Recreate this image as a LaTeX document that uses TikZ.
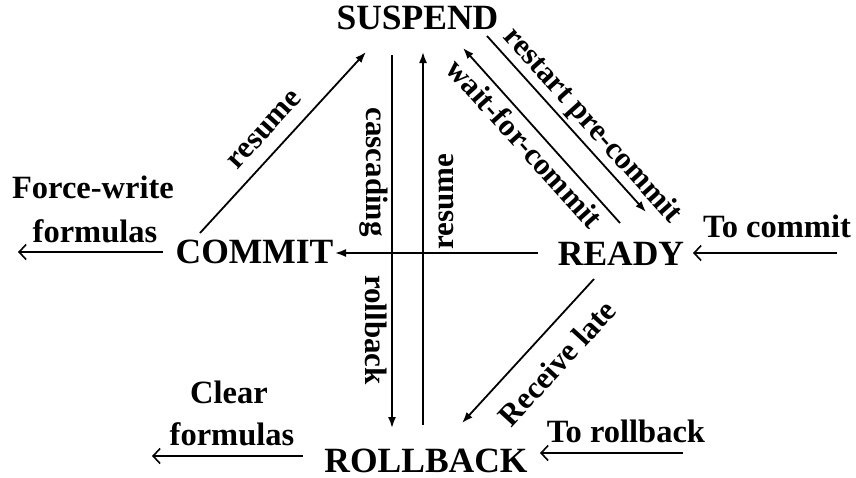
\documentclass[tikz,border=0pt]{standalone}
\usepackage{fontspec}
\setmainfont{Liberation Serif}
\usetikzlibrary{arrows.meta}
\begin{document}
\begin{tikzpicture}[x=1pt,y=-1pt,
  state/.style={font=\fontsize{35.5}{36}\selectfont\bfseries, inner sep=0pt},
  lbl/.style={font=\fontsize{31}{32}\selectfont\bfseries, inner sep=0pt},
  hlbl/.style={font=\fontsize{32.5}{33}\selectfont\bfseries, inner sep=0pt, anchor=base},
  arr/.style={line width=1.8pt, -{Latex[length=11pt,width=8pt]}},
  ext/.style={line width=1.8pt, -{Straight Barb[length=7pt,width=15pt,line width=1.6pt]}}]
\useasboundingbox (0,0) rectangle (856,477);
% states
\node[state] (S) at (417.5,17.5) {SUSPEND};
\node[state] (C) at (254.5,251.5) {COMMIT};
\node[state] (R) at (621,253.5) {READY};
\node[state] (B) at (426,460.5) {ROLLBACK};
% connector end points
\coordinate (cs1) at (200,233);   \coordinate (cs2) at (366,52);
\coordinate (sb1) at (392,55);    \coordinate (sb2) at (392,428);
\coordinate (bs1) at (423,425);   \coordinate (bs2) at (423,52);
\coordinate (rc1) at (538,253);   \coordinate (rc2) at (335,253);
\coordinate (rs1) at (620,223);   \coordinate (rs2) at (463,48);
\coordinate (sr1) at (487,36);    \coordinate (sr2) at (646,212);
\coordinate (rb1) at (594,279);   \coordinate (rb2) at (462,423);
\coordinate (cx1) at (163,252);   \coordinate (cx2) at (18,252);
\coordinate (rx1) at (837,253);   \coordinate (rx2) at (693,253);
\coordinate (bx1) at (683,453);   \coordinate (bx2) at (540,453);
\coordinate (bo1) at (303,456);   \coordinate (bo2) at (152,456);
% connectors
\draw[arr] (cs1) -- (cs2);
\draw[arr] (sb1) -- (sb2);
\draw[arr] (bs1) -- (bs2);
\draw[arr] (rc1) -- (rc2);
\draw[arr] (rs1) -- (rs2);
\draw[arr] (sr1) -- (sr2);
\draw[arr] (rb1) -- (rb2);
\draw[ext] (cx1) -- (cx2);
\draw[ext] (rx1) -- (rx2);
\draw[ext] (bx1) -- (bx2);
\draw[ext] (bo1) -- (bo2);
% labels
\node[lbl, rotate=47.6] (l1) at (265,130) {resume};
\node[lbl, rotate=-90] (l2) at (373.5,172) {cascading};
\node[lbl, rotate=-90] (l3) at (376,330) {rollback};
\node[lbl, rotate=90] (l4) at (446,202) {resume};
\node[lbl, rotate=-48] (l5) at (525,143) {wait-for-commit};
\node[lbl, rotate=-48] (l6) at (592,126) {restart pre-commit};
\node[lbl, rotate=47.5] (l7) at (557,363) {Receive late};
\node[hlbl] (l8) at (93,198) {Force-write};
\node[hlbl] (l9) at (95,242) {formulas};
\node[hlbl] (l10) at (777,237) {To commit};
\node[hlbl] (l11) at (229,403) {Clear};
\node[hlbl] (l12) at (232,445) {formulas};
\node[hlbl] (l13) at (626,442) {To rollback};
\end{tikzpicture}
\end{document}
